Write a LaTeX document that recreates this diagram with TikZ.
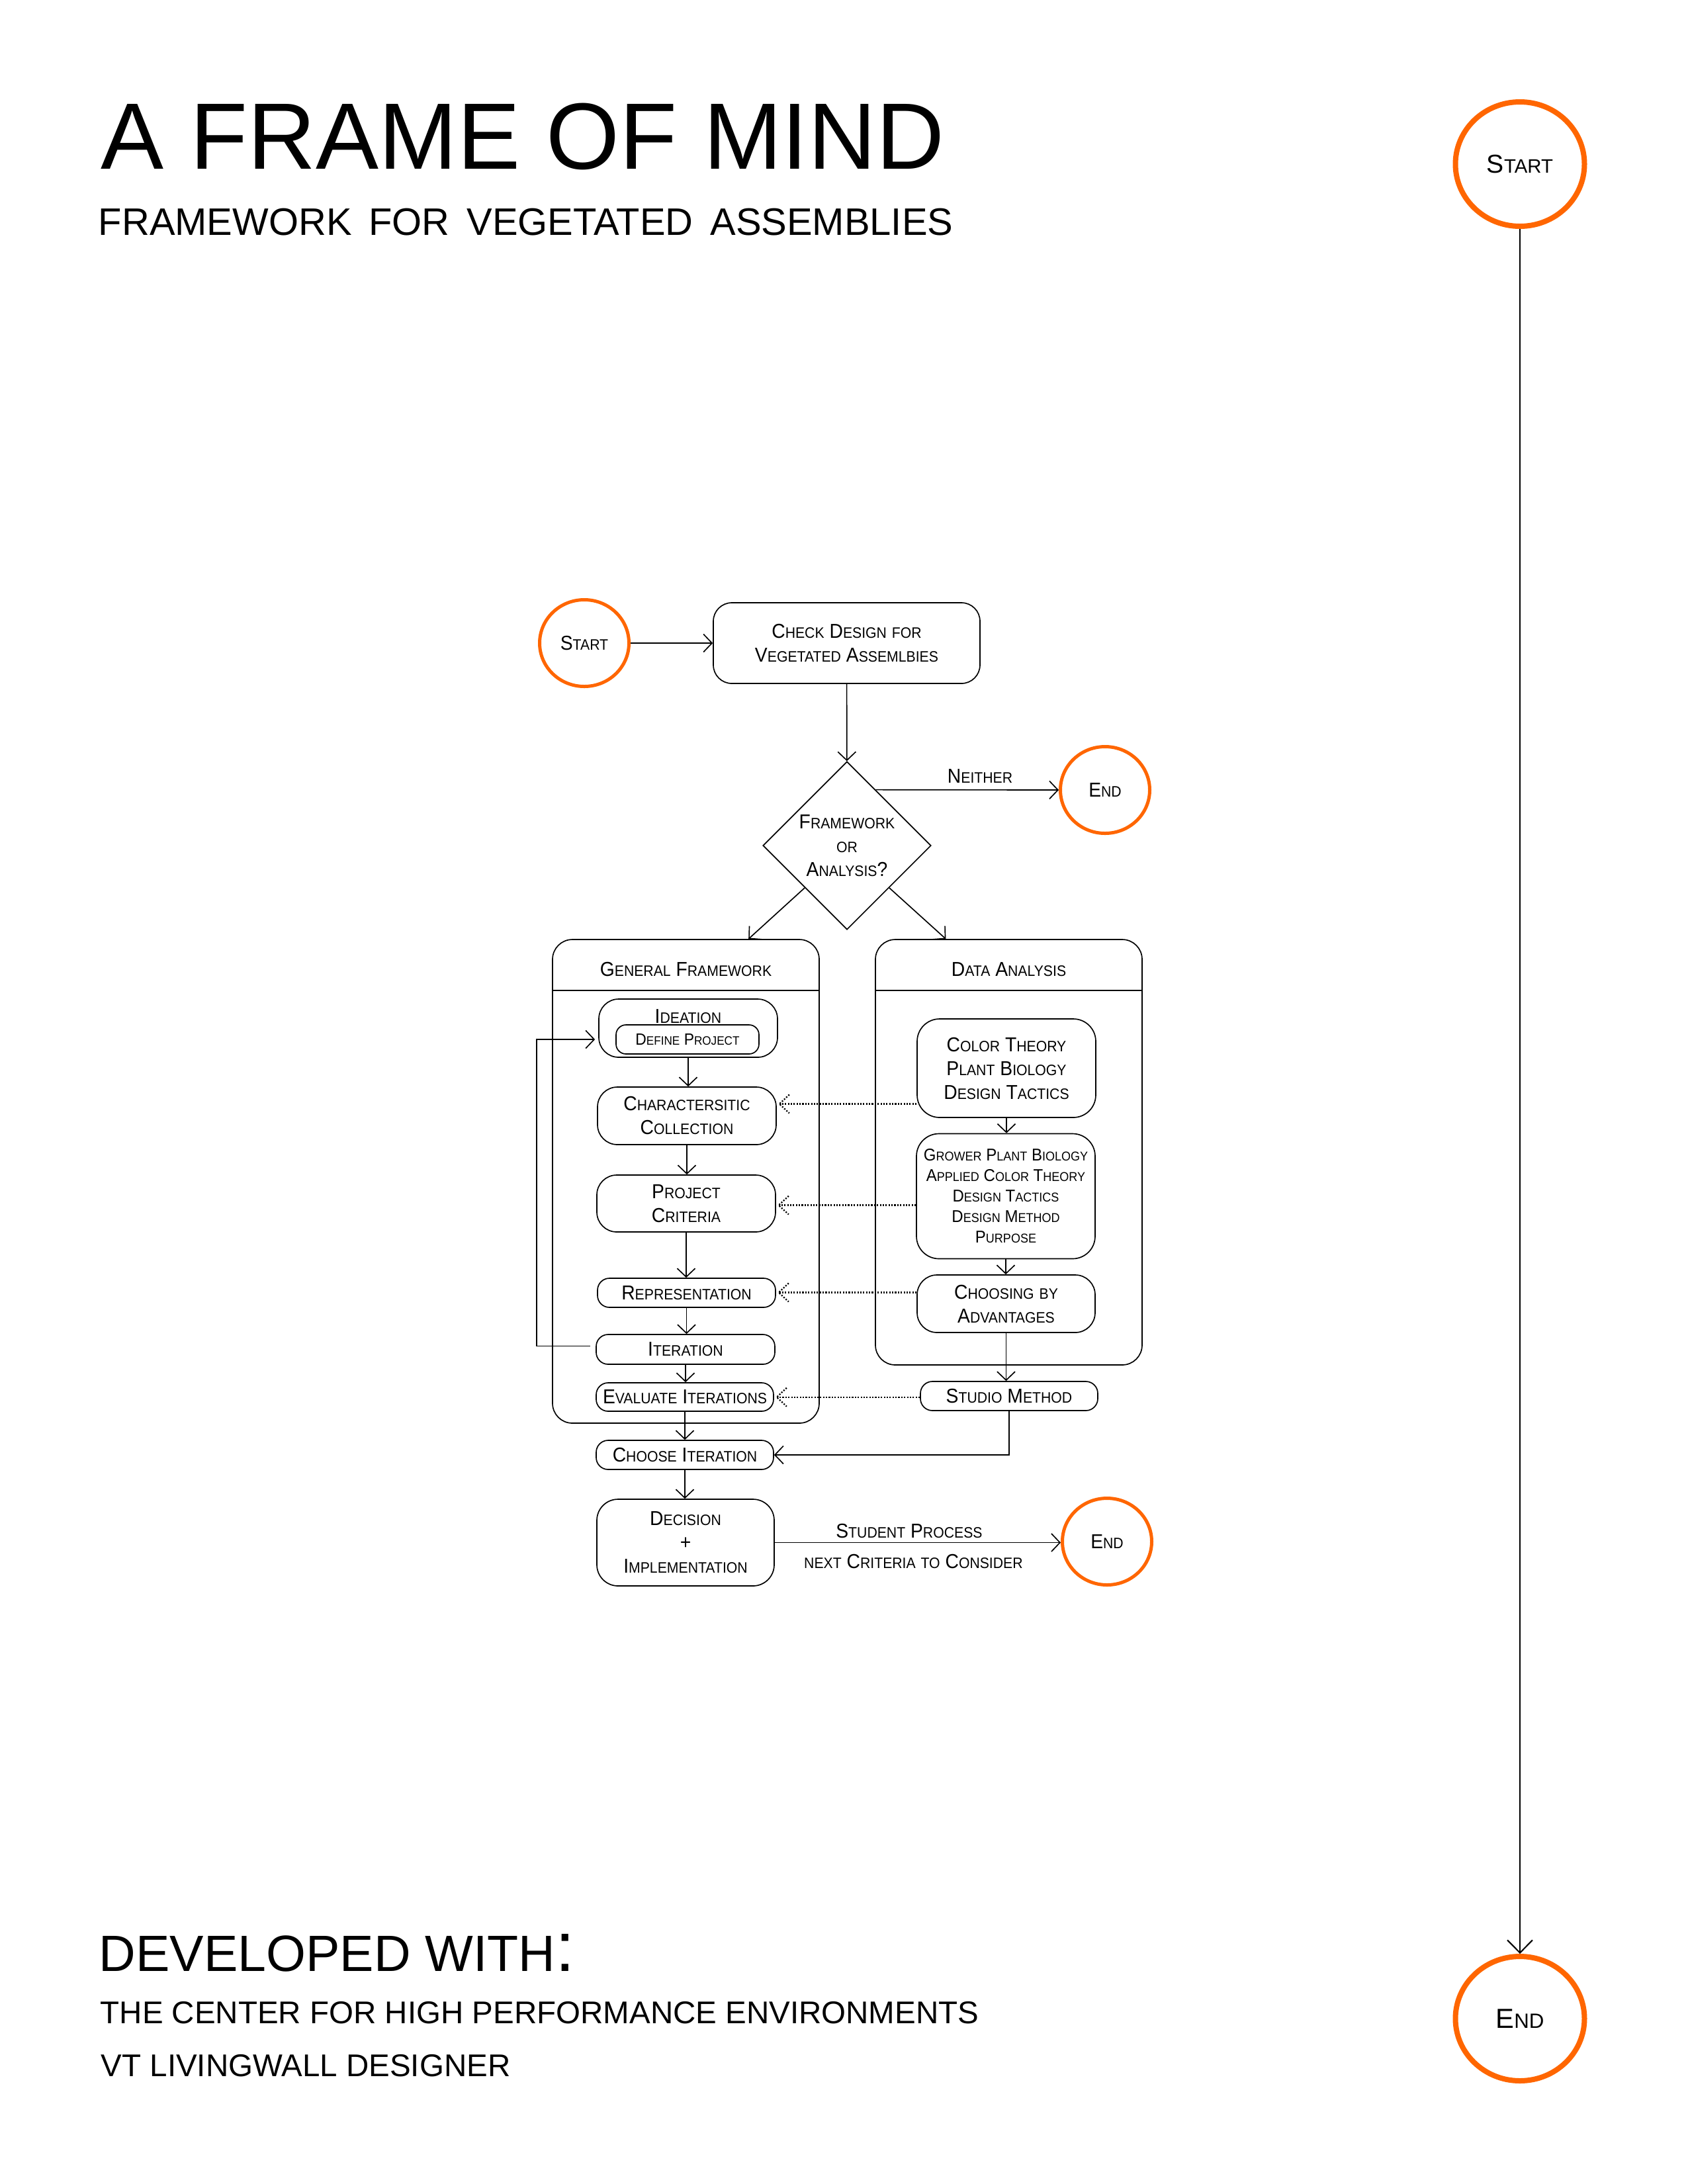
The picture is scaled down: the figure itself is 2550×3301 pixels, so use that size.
\documentclass[tikz,border=0pt]{standalone}
\usepackage{fontspec}
\setmainfont{Liberation Sans}
\newfontfamily\fcfont[FakeStretch=0.93]{Liberation Sans}
\newfontfamily\widefont[WordSpace=1.6]{Liberation Sans}
\usetikzlibrary{arrows.meta,shapes.geometric,calc}
\definecolor{flame}{RGB}{255,102,0}
\makeatletter
% small capitals faked with reduced upper-case letters
\newcommand\sm[1]{{\fontsize{\fpeval{0.75*\f@size}}{\f@baselineskip}\selectfont\MakeUppercase{#1}}}
\makeatother
% dotted connector with a dotted open head at its end
\newcommand\dotarrow[2]{%
  \draw[dotl] (#1) -- (#2);
  \draw[dotl] ($(#2)+(15,-14)$) -- (#2) -- ($(#2)+(15,14)$);}

\begin{document}
\begin{tikzpicture}[x=0.24pt,y=-0.24pt,
  fc/.style={font=\fcfont\fontsize{7.3}{8.64}\selectfont},
  box/.style={fc,draw,line width=0.4pt,rounded corners=7.2pt,align=center,inner sep=0pt,minimum width=64.8pt},
  slim/.style={box,rounded corners=4.32pt,minimum height=10.56pt},
  cont/.style={fc,draw,line width=0.4pt,rounded corners=7.2pt,inner sep=0pt,minimum width=96.72pt,text height=5.28pt},
  term/.style={fc,ellipse,draw=flame,line width=1.2pt,minimum width=32.4pt,minimum height=31.44pt,inner sep=0pt},
  bigterm/.style={ellipse,draw=flame,line width=1.92pt,minimum width=46.8pt,minimum height=45.12pt,inner sep=0pt},
  arr/.style={line width=0.4pt,-{Straight Barb[length=3.1pt,width=6.5pt]}},
  dotl/.style={line width=0.55pt,dash pattern=on 0.5pt off 0.55pt},
  lbl/.style={fc,inner sep=0pt,anchor=base},
  head/.style={inner sep=0pt,anchor=base west}
]
\fill[white] (0,0) rectangle (2550,3301);
\useasboundingbox (0,0) rectangle (2550,3301);

% headings
\node[head,font=\fontsize{34.2}{40}\selectfont] (title) at (152,255) {A FRAME OF MIND};
\node[head,font=\widefont\fontsize{13.9}{17}\selectfont] (subtitle) at (148,355) {FRAMEWORK FOR VEGETATED ASSEMBLIES};
\node[head,font=\fontsize{18.5}{22}\selectfont] (devel) at (149,2979) {DEVELOPED WITH{\fontsize{25.5}{26}\selectfont:}};
\node[head,font=\fontsize{11.4}{13}\selectfont] (chpe) at (151,3058) {THE CENTER FOR HIGH PERFORMANCE ENVIRONMENTS};
\node[head,font=\fontsize{11.4}{13}\selectfont] (vtlw) at (152,3138) {VT LIVINGWALL DESIGNER};

% overall start / end
\node[bigterm,font=\fontsize{9.4}{11}\selectfont] (rstart) at (2297,248) {S\sm{tart}};
\node[bigterm,font=\fontsize{10}{12}\selectfont] (rend) at (2297,3051) {E\sm{nd}};
\draw[line width=0.5pt,-{Straight Barb[length=4.6pt,width=9.1pt]}] (rstart) -- (rend);

% flowchart head
\node[term] (fstart) at (883,972) {S\sm{tart}};
\node[box,rounded corners=6.72pt,minimum width=96.72pt,minimum height=29.28pt] (check) at (1279.5,972)
  {C\sm{heck} D\sm{esign} \sm{for}\\V\sm{egetated} A\sm{ssemlbies}};
\node[fc,draw,diamond,line width=0.4pt,minimum width=60.96pt,minimum height=60.96pt,inner sep=0pt,align=center] (dia) at (1280,1278)
  {F\sm{ramework}\\\sm{or}\\A\sm{nalysis}?};
\node[term] (fend1) at (1670,1194) {E\sm{nd}};

% lanes
\node[cont,minimum height=175.44pt,text depth=154.1pt] (gf) at (1036.5,1785.5) {G\sm{eneral} F\sm{ramework}};
\node[cont,minimum height=154.32pt,text depth=132.77pt] (da) at (1524.5,1741.5) {D\sm{ata} A\sm{nalysis}};
\draw[line width=0.4pt] ($(gf.north west)+(0,78)$) -- ($(gf.north east)+(0,78)$);
\draw[line width=0.4pt] ($(da.north west)+(0,78)$) -- ($(da.north east)+(0,78)$);

% general framework steps
\node[box,rounded corners=7.2pt,minimum height=21.12pt,text height=5.28pt,text depth=8.83pt] (idea) at (1040,1554) {I\sm{deation}};
\node[box,rounded corners=3.6pt,minimum width=51.84pt,minimum height=10.56pt,font=\fcfont\fontsize{5.9}{7}\selectfont] (defp) at (1039,1571) {D\sm{efine} P\sm{roject}};
\node[box,minimum height=20.88pt] (char) at (1038,1686.5) {C\sm{haractersitic}\\C\sm{ollection}};
\node[box,minimum height=20.64pt] (crit) at (1037,1819) {P\sm{roject}\\C\sm{riteria}};
\node[slim,minimum width=64.56pt] (repr) at (1037.5,1954) {R\sm{epresentation}};
\node[slim,minimum height=10.8pt] (iter) at (1036,2039.5) {I\sm{teration}};
\node[slim,minimum width=64.32pt,minimum height=10.32pt] (eval) at (1035,2111.5) {E\sm{valuate} I\sm{terations}};
\node[slim,minimum width=64.32pt] (choose) at (1035,2199) {C\sm{hoose} I\sm{teration}};
\node[box,rounded corners=7.68pt,minimum width=64.32pt,minimum height=31.44pt] (decision) at (1036,2331.5)
  {D\sm{ecision}\\+\\I\sm{mplementation}};
\node[term] (fend2) at (1673,2330) {E\sm{nd}};

% data analysis steps
\node[box,rounded corners=8.16pt,minimum height=35.76pt] (b1) at (1521,1614.5)
  {C\sm{olor} T\sm{heory}\\P\sm{lant} B\sm{iology}\\D\sm{esign} T\sm{actics}};
\node[box,rounded corners=8.16pt,minimum height=45.36pt,font=\fcfont\fontsize{6.2}{7.44}\selectfont] (b2) at (1520,1808)
  {G\sm{rower} P\sm{lant} B\sm{iology}\\A\sm{pplied} C\sm{olor} T\sm{heory}\\D\sm{esign} T\sm{actics}\\D\sm{esign} M\sm{ethod}\\P\sm{urpose}};
\node[box,minimum width=64.56pt,minimum height=20.88pt] (b3) at (1520.5,1970.5) {C\sm{hoosing} \sm{by}\\A\sm{dvantages}};
\node[slim,minimum width=64.32pt] (studio) at (1525,2110) {S\sm{tudio} M\sm{ethod}};

% connectors
\draw[arr] (fstart) -- (check);
\draw[arr] (check) -- (dia);
\draw[arr] ($(dia.north)!0.34!(dia.east)$) -- node[lbl,pos=0.57,yshift=2.4pt]{N\sm{either}} (fend1.west);
\draw[arr] (dia.south west) -- ($(gf.north west)!0.734!(gf.north east)$);
\draw[arr] (dia.south east) -- ($(da.north west)!0.265!(da.north east)$);

\draw[arr] (idea.south) -- (idea.south |- char.north);
\draw[arr] (char.south) -- (char.south |- crit.north);
\draw[arr] (crit.south) -- (crit.south |- repr.north);
\draw[arr] (repr.south) -- (repr.south |- iter.north);
\draw[arr] (iter.south) -- (iter.south |- eval.north);
\draw[arr] (eval.south) -- (eval.south |- choose.north);
\draw[arr] (choose.south) -- (choose.south |- decision.north);
\draw[arr] ($(iter.west)+(-8,-5)$) -- ++(-81,0) |- ($(idea.west)+(-5,17)$);

\draw[arr] (b1.south) -- (b1.south |- b2.north);
\draw[arr] (b2.south) -- (b2.south |- b3.north);
\draw[arr] (b3.south) -- (b3.south |- studio.north);
\draw[arr] (studio.south) |- (choose.east);

\draw[arr] (decision.east) --
  node[lbl,pos=0.47,yshift=1.8pt]{S\sm{tudent} P\sm{rocess}}
  node[lbl,pos=0.485,yshift=-9.24pt]{\sm{next} C\sm{riteria} \sm{to} C\sm{onsider}}
  (decision.east -| fend2.west);

% dotted feeds from the analysis lane
\coordinate (p1) at ($(b1.west)+(0,54)$);
\coordinate (t1) at ($(p1 -| char.east)+(4,0)$);
\coordinate (p2) at ($(b2.west)+(0,13.6)$);
\coordinate (t2) at ($(p2 -| crit.east)+(4,0)$);
\coordinate (p3) at ($(b3.west)+(0,-17)$);
\coordinate (t3) at ($(p3 -| repr.east)+(4,0)$);
\coordinate (p4) at ($(studio.west)+(0,1.7)$);
\coordinate (t4) at ($(p4 -| eval.east)+(4,0)$);
\dotarrow{p1}{t1}
\dotarrow{p2}{t2}
\dotarrow{p3}{t3}
\dotarrow{p4}{t4}
\end{tikzpicture}
\end{document}
